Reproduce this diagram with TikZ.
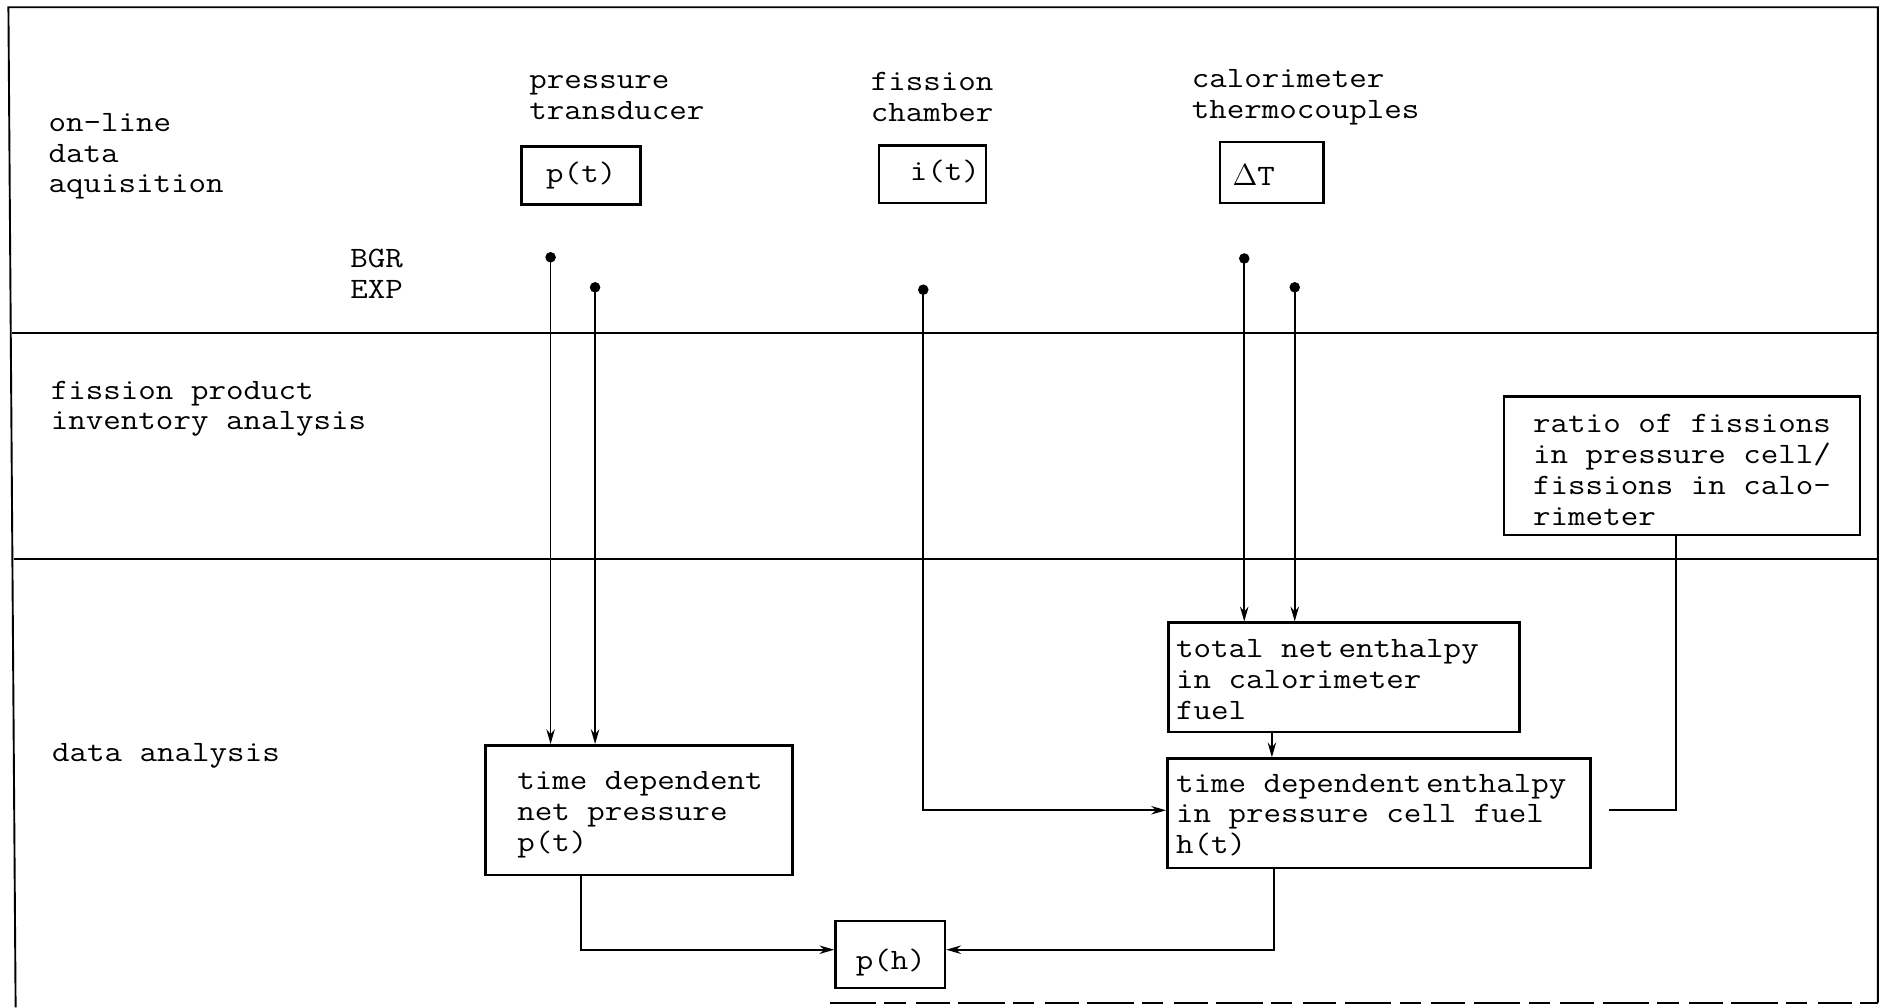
\documentclass[tikz,border=0pt]{standalone}
\usepackage{fontspec}
\newfontfamily\tw[FakeStretch=1.15]{Latin Modern Mono}
\usetikzlibrary{arrows.meta,fit}
\begin{document}
\begin{tikzpicture}[x=0.02cm,y=-0.02cm,
  txt/.style={font=\tw\fontsize{14}{14.6}\selectfont, inner sep=0pt, align=left, anchor=west},
  box/.style={draw, line width=1.2pt, inner sep=0pt},
  frame/.style={line width=0.9pt},
  conn/.style={line width=0.85pt, -{Stealth[length=7pt,width=4pt]}},
  plain/.style={line width=0.85pt},
  dot/.style={fill, circle, inner sep=0pt, minimum size=5pt}]
\useasboundingbox (0,0) rectangle (1568,838);
% frame
\draw[frame] (13,838) -- (7,6) -- (1562,6) -- (1562,834);
\draw[frame] (10,277) -- (1562,277);
\draw[frame] (12,465) -- (1562,465);
\draw[frame, dash pattern=on 22pt off 4pt on 10pt off 5pt on 16pt off 4pt] (690,834) -- (1562,834);
% row labels
\node[txt] (l1) at (40,130) {on-line\\data\\aquisition};
\node[txt] (l2) at (291,228) {BGR\\EXP};
\node[txt] (l3) at (42,340) {fission product\\inventory analysis};
\node[txt] (l4) at (43,629) {data analysis};
% column labels
\node[txt] (c1) at (440,81) {pressure\\transducer};
\node[txt] (c2) at (724,81) {fission\\chamber};
\node[txt] (c3) at (991,81) {calorimeter\\thermocouples};
% top boxes
\node[box, fit={(434,122) (533,170)}] (pt) {};
\node[txt, anchor=center] (ptT) at (pt.center) {p(t)};
\node[box, fit={(731,121) (820,169)}] (it) {};
\node[txt, anchor=center] (itT) at (786,143) {i(t)};
\node[box, fit={(1015,118) (1101,169)}] (dT) {};
\node[txt] (dTT) at (1025,146) {$\Delta$T};
% lower boxes
\node[box, fit={(1251,330) (1547,445)}] (ratio) {};
\node[txt] (ratioT) at (1275,391) {ratio of fissions\\in pressure cell/\\fissions in calo-\\rimeter};
\node[box, fit={(972,518) (1264,609)}] (tne) {};
\node[txt] (tneT) at (978,565) {total net\,enthalpy\\in calorimeter\\fuel};
\node[box, fit={(971,631) (1323,722)}] (tde) {};
\node[txt] (tdeT) at (978,678) {time dependent\,enthalpy\\in pressure cell fuel\\h(t)};
\node[box, fit={(404,620) (659,728)}] (tdp) {};
\node[txt] (tdpT) at (430,678) {time dependent\\net pressure\\p(t)};
\node[box, fit={(695,766) (786,822)}] (ph) {};
\node[txt, anchor=center] (phT) at (741,801) {p(h)};
% dots
\node[dot] (d1) at (458,214) {};
\node[dot] (d2) at (495,239) {};
\node[dot] (d3) at (768,241) {};
\node[dot] (d4) at (1035,215) {};
\node[dot] (d5) at (1077,239) {};
% helper coordinates
\coordinate (x1) at (1058,0);
\coordinate (x2) at (1394,674);
\coordinate (x3) at (1338,674);
\coordinate (x4) at (483,0);
\coordinate (x5) at (1060,0);
\coordinate (yph) at (0,790);
\coordinate (yde) at (0,674);
% connectors
\draw[conn] (d1.center) -- (d1 |- tdp.north);
\draw[conn] (d2.center) -- (d2 |- tdp.north);
\draw[conn] (d3.center) |- (tde.west |- yde);
\draw[conn] (d4.center) -- (d4 |- tne.north);
\draw[conn] (d5.center) -- (d5 |- tne.north);
\draw[conn] (x1 |- tne.south) -- (x1 |- tde.north);
\draw[plain] (ratio.south -| x2) -- (x2) -- (x3);
\draw[conn] (tdp.south -| x4) |- (ph.west |- yph);
\draw[conn] (tde.south -| x5) |- (ph.east |- yph);
\end{tikzpicture}
\end{document}
